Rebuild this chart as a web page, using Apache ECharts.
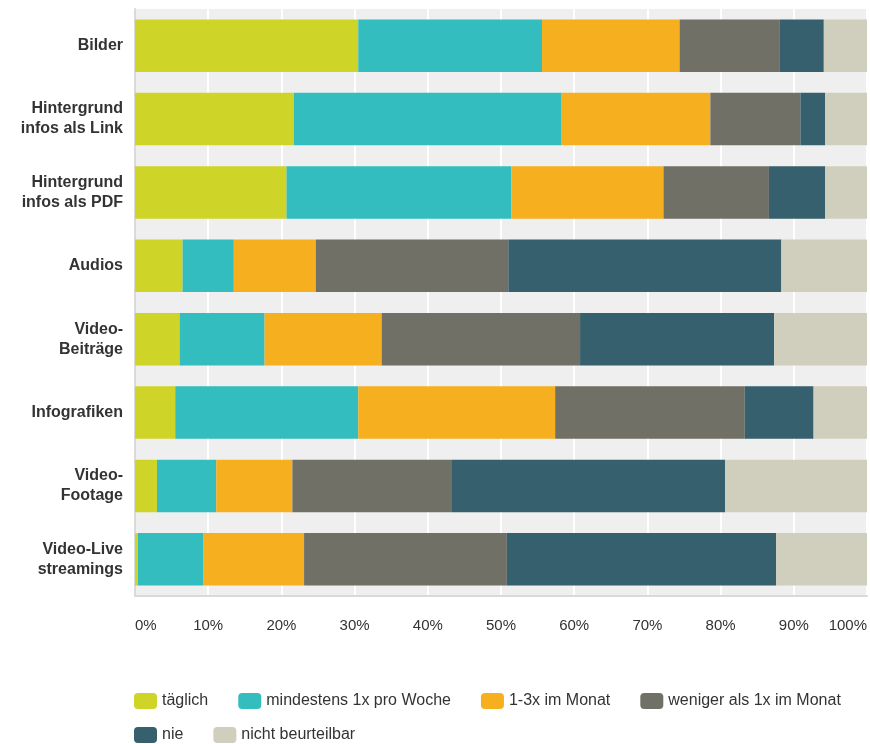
<!DOCTYPE html>
<html>
<head>
<meta charset="utf-8">
<script src="https://cdn.jsdelivr.net/npm/echarts@6/dist/echarts.min.js"></script>
<style>
html,body{margin:0;padding:0;background:#fff;}
#chart{width:870px;height:744px;}
</style>
</head>
<body>
<div id="chart"></div>
<script>
const categories = ['Bilder', 'Hintergrund\ninfos als Link', 'Hintergrund\ninfos als PDF', 'Audios', 'Video-\nBeiträge', 'Infografiken', 'Video-\nFootage', 'Video-Live\nstreamings'];
const seriesNames = ['täglich', 'mindestens 1x pro Woche', '1-3x im Monat', 'weniger als 1x im Monat', 'nie', 'nicht beurteilbar'];
const taeglich    = [30.5, 21.7, 20.7, 6.5, 6.1, 5.5, 3.0, 0.4];
const woechentlich = [25.1, 36.5, 30.7, 7.0, 11.6, 25.0, 8.1, 8.9];
const monatlich   = [18.8, 20.4, 20.8, 11.2, 16.0, 26.9, 10.4, 13.8];
const seltener    = [13.7, 12.3, 14.4, 26.3, 27.1, 25.9, 21.7, 27.7];
const nie         = [6.0, 3.4, 7.7, 37.3, 26.5, 9.4, 37.4, 36.8];
const nichtBeurteilbar = [5.9, 5.7, 5.7, 11.7, 12.7, 7.3, 19.4, 12.4];
const xTicks = [0, 10, 20, 30, 40, 50, 60, 70, 80, 90, 100];

const colors = ['#CFD528', '#33BDBF', '#F6AF1E', '#707066', '#36606D', '#D0CFBE'];
const allValues = [taeglich, woechentlich, monatlich, seltener, nie, nichtBeurteilbar];

const chart = echarts.init(document.getElementById('chart'), null, {renderer: 'canvas'});
const font = '"Liberation Sans", Arial, sans-serif';

const legendCommon = {
  orient: 'horizontal',
  left: 134,
  padding: 0,
  itemWidth: 23,
  itemHeight: 16,
  itemGap: 30,
  icon: 'roundRect',
  textStyle: {fontFamily: font, fontSize: 16, color: '#333'},
  selectedMode: false
};

chart.setOption({
  animation: false,
  color: colors,
  grid: {
    left: 135, right: 1, top: 9, bottom: 148,
    show: true, backgroundColor: '#EFEFEF', borderWidth: 0
  },
  legend: [
    Object.assign({}, legendCommon, {top: 693, data: seriesNames.slice(0, 4)}),
    Object.assign({}, legendCommon, {top: 727, data: seriesNames.slice(4)})
  ],
  xAxis: {
    type: 'value',
    min: xTicks[0], max: xTicks[xTicks.length - 1], interval: 10,
    axisLine: {show: true, lineStyle: {color: '#DADADA', width: 2}},
    axisTick: {show: false},
    splitLine: {show: true, lineStyle: {color: '#FFFFFF', width: 2}},
    axisLabel: {
      formatter: '{value}%', fontFamily: font, fontSize: 15, color: '#333',
      margin: 22, alignMinLabel: 'left', alignMaxLabel: 'right'
    }
  },
  yAxis: {
    type: 'category',
    data: categories,
    inverse: true,
    axisLine: {show: true, lineStyle: {color: '#DADADA', width: 2}},
    axisTick: {show: false},
    splitLine: {show: false},
    axisLabel: {
      fontFamily: font, fontSize: 16, fontWeight: 'bold', color: '#333',
      margin: 12, lineHeight: 20, align: 'right'
    }
  },
  series: seriesNames.map((name, i) => ({
    name: name,
    type: 'bar',
    stack: 'total',
    barWidth: '71.5%',
    data: allValues[i],
    itemStyle: {color: colors[i]}
  }))
});
</script>
</body>
</html>
